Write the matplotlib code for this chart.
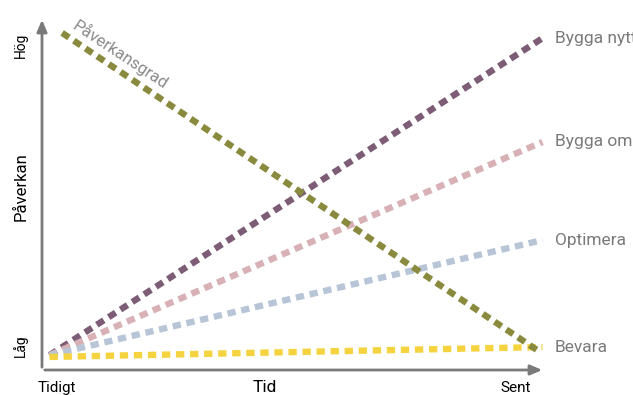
import matplotlib.pyplot as plt

# data (x: Tidigt=0 .. Sent=10, y: Låg=0 .. Hög=10)
series = ["Bygga nytt", "Bygga om", "Optimera", "Bevara"]
x_start = 0.15
x_end = 9.95
y_start = [0.42, 0.42, 0.42, 0.37]
y_end = [9.4, 6.46, 3.68, 0.65]
colors = ["#7d5c75", "#d8b1b6", "#b8c5d7", "#f5d33f"]

impact_x = [0.4, 9.9]
impact_y = [9.55, 0.51]
impact_color = "#8a8a3f"

plt.rcParams['font.family'] = ['Roboto', 'DejaVu Sans']

fig = plt.figure(figsize=(6.33, 3.95), dpi=100)
ax = fig.add_axes([42 / 633, 25 / 395, 503 / 633, 353 / 395])
ax.set_xlim(0, 10)
ax.set_ylim(0, 10)
ax.axis('off')

dash = (0, (1.3, 0.9))
for name, y0, y1, c in zip(series, y_start, y_end, colors):
    ax.plot([x_start, x_end], [y0, y1], color=c, lw=4.6, linestyle=dash,
            solid_capstyle='butt', dash_capstyle='butt', clip_on=False)
    ax.text(10.2, y1, name, color="#7a7a7a", fontsize=12.5, va='center', ha='left')

ax.plot(impact_x, impact_y, color=impact_color, lw=4.6, linestyle=dash,
        dash_capstyle='butt', clip_on=False)
ax.text(1.55, 8.95, "Påverkansgrad", color="#8a8a8a", fontsize=12,
        rotation=-33.5, ha='center', va='center')

# axes arrows
arrow = dict(arrowstyle='-|>,head_length=0.7,head_width=0.3', color='#7a7a7a', lw=2)
ax.annotate("", xy=(0, 1.0), xytext=(0, 0), xycoords='axes fraction', arrowprops=arrow)
ax.annotate("", xy=(1.0, 0), xytext=(0, 0), xycoords='axes fraction', arrowprops=arrow)

# axis texts
ax.text(-0.42, 9.2, "Hög", rotation=90, ha='center', va='center', fontsize=10, clip_on=False)
ax.text(-0.42, 0.7, "Låg", rotation=90, ha='center', va='center', fontsize=10, clip_on=False)
ax.text(-0.42, 5.2, "Påverkan", rotation=90, ha='center', va='center', fontsize=12, clip_on=False)
ax.text(0.3, -0.5, "Tidigt", ha='center', va='center', fontsize=11)
ax.text(4.43, -0.5, "Tid", ha='center', va='center', fontsize=12.5)
ax.text(9.42, -0.5, "Sent", ha='center', va='center', fontsize=11)

fig.savefig("out.png", dpi=100)
